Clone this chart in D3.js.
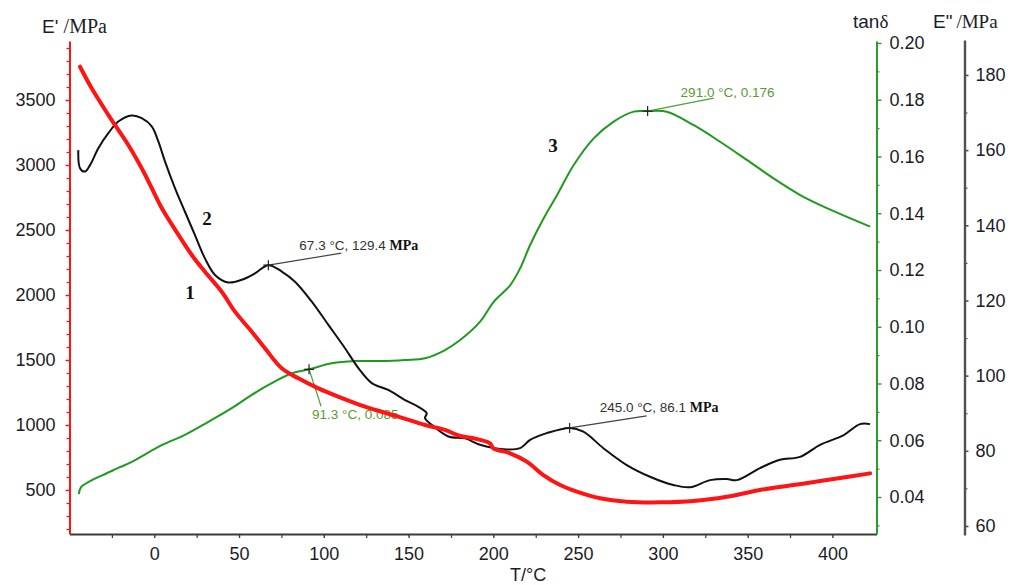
<!DOCTYPE html>
<html>
<head>
<meta charset="utf-8">
<script src="https://cdn.jsdelivr.net/npm/d3@7/dist/d3.min.js"></script>
<style>
  html, body { margin: 0; padding: 0; background: #fff; }
  svg { display: block; }
  .tick text { font-family: "Liberation Sans", Arial, sans-serif; font-size: 18px; fill: #1c1c28; }
</style>
</head>
<body>
<svg id="chart" width="1010" height="585"></svg>
<script>
// Temperature sweep, °C
// Curve 1: storage modulus E' (MPa)
const tempE1 = [-43.8, -36.9, -27.1, -23.2, -15.3, -7.4, -1.5, 4.4, 14.3, 22.1, 29.9, 39.8, 47.6, 57.5, 65.3, 75.2, 85.0, 96.8, 108.6, 124.3, 144, 159.7, 171.5, 180.4, 188.2, 198, 200, 209.9, 219.7, 229.5, 239.4, 249.2, 263, 278.7, 298.3, 318, 337.7, 357.3, 377, 396.7, 422.2];
const storageModulus = [3756, 3590, 3385, 3308, 3154, 2975, 2823, 2669, 2462, 2308, 2179, 2025, 1872, 1718, 1590, 1436, 1359, 1282, 1218, 1141, 1064, 1000, 962, 915, 898, 859, 821, 782, 718, 615, 538, 487, 436, 410, 405, 415, 448, 500, 538, 577, 628];

// Curve 2: loss modulus E'' (MPa)
const tempE2 = [-44.8, -43.8, -40.9, -37.9, -33, -27.1, -21.2, -13.3, -7.4, -1.5, 2.4, 6.3, 12.2, 18.1, 24, 29.9, 35.8, 43.7, 51.6, 59.4, 67.3, 75.2, 83, 92.9, 102.7, 112.5, 120.4, 128.3, 138, 147.9, 155.8, 160.7, 159.7, 163.7, 173.5, 183.3, 192.2, 206, 215.8, 221.7, 231.5, 245, 253.1, 264.9, 278.7, 292.4, 306.2, 316, 327.8, 337.7, 343.6, 357.3, 369.1, 380.9, 392.7, 406.7, 416.3, 422.2];
const lossModulus = [160.0, 155.2, 154.3, 156, 160.5, 164.5, 167.6, 169.2, 168.5, 166.3, 162.3, 157, 149.9, 143.6, 137.4, 131.2, 126.8, 124.8, 125.5, 127.2, 129.4, 127.7, 125, 119.7, 113.5, 107.3, 102, 98, 96.2, 93.5, 91.7, 90, 88.7, 86.9, 83.8, 83.3, 81.6, 80.4, 80.7, 82.9, 84.7, 86.1, 85.1, 80.7, 76.2, 73.1, 70.9, 70.3, 72.2, 72.5, 72.2, 75.4, 77.6, 78.4, 81.6, 84.2, 87.1, 87.1];

// Curve 3: loss factor tan δ
const tempTan = [-44.5, -43.2, -37.9, -32, -20.2, -13.3, 4.4, 18.1, 31.9, 45.7, 57.5, 69.3, 81.1, 91.3, 104.7, 118.4, 134.2, 147.9, 159.7, 171.5, 180.4, 192.2, 200.2, 210, 215.8, 221.7, 229.7, 237.6, 247.4, 259.2, 271, 282.8, 291, 302.3, 318, 333.7, 349.5, 365.2, 381, 396.7, 422.2];
const tanDelta = [0.041, 0.0435, 0.0456, 0.0473, 0.0505, 0.0524, 0.0583, 0.0619, 0.0665, 0.0713, 0.076, 0.0801, 0.0836, 0.085, 0.0871, 0.0879, 0.0879, 0.0883, 0.0889, 0.0918, 0.0953, 0.1018, 0.1088, 0.1147, 0.1206, 0.1288, 0.1382, 0.1464, 0.157, 0.1664, 0.1723, 0.1758, 0.176, 0.1758, 0.1711, 0.1652, 0.1588, 0.1523, 0.1464, 0.1418, 0.1353];

// Tick values
const tempTicks = [0, 50, 100, 150, 200, 250, 300, 350, 400];
const storageTicks = [500, 1000, 1500, 2000, 2500, 3000, 3500];
const tanTicks = [0.04, 0.06, 0.08, 0.10, 0.12, 0.14, 0.16, 0.18, 0.20];
const lossTicks = [60, 80, 100, 120, 140, 160, 180];

// Peak annotations
const peaks = [
  { t: 67.3, v: 129.4, series: "loss", label: "67.3 °C, 129.4 ", unit: "MPa" },
  { t: 245.0, v: 86.1, series: "loss", label: "245.0 °C, 86.1 ", unit: "MPa" },
  { t: 91.3, v: 0.085, series: "tan", label: "91.3 °C, 0.085", unit: "" },
  { t: 291.0, v: 0.176, series: "tan", label: "291.0 °C, 0.176", unit: "" }
];

const svg = d3.select("#chart");
const SANS = '"Liberation Sans", Arial, sans-serif';
const SERIF = '"Liberation Serif", "Times New Roman", serif';

const plotLeft = 69.5, plotRight = 876.5, plotBottom = 534, plotTop = 41;

const x = d3.scaleLinear().domain([-50, 426]).range([plotLeft, plotRight]);
const yE1 = d3.scaleLinear().domain([161.5, 3953.8]).range([plotBottom, plotTop]);
const yTan = d3.scaleLinear().domain([0.02696, 0.2007]).range([plotBottom, plotTop]);
const yE2 = d3.scaleLinear().domain([57.6, 189.3]).range([535, 40]);

const RED = "#ff1414", GREEN = "#1f9a1f", BLACK = "#111";

// ---- axes ----
function minorTicks(g, scale, values, axisFn, size, color) {
  g.append("g").call(axisFn(scale).tickValues(values).tickSize(size).tickFormat(""))
    .call(a => a.select(".domain").remove())
    .call(a => a.selectAll("line").attr("stroke", color).attr("stroke-width", 1.2));
}

// bottom temperature axis
const gx = svg.append("g").attr("transform", `translate(0,${plotBottom})`);
gx.call(d3.axisBottom(x).tickValues(tempTicks).tickSize(4).tickPadding(9).tickSizeOuter(0).tickFormat(d3.format("d")))
  .call(a => a.select(".domain").attr("stroke", "#3a3a3a").attr("stroke-width", 2))
  .call(a => a.selectAll(".tick line").attr("stroke", "#3a3a3a").attr("stroke-width", 1.4));
minorTicks(gx, x, d3.range(-25, 401, 50), d3.axisBottom, 4, "#3a3a3a");

// left E' axis (red)
const gl = svg.append("g").attr("transform", `translate(${plotLeft},0)`);
gl.call(d3.axisLeft(yE1).tickValues(storageTicks).tickSize(4).tickPadding(10).tickSizeOuter(0).tickFormat(d3.format("d")))
  .call(a => a.select(".domain").attr("stroke", RED).attr("stroke-width", 2))
  .call(a => a.selectAll(".tick line").attr("stroke", RED).attr("stroke-width", 1.4));
minorTicks(gl, yE1, d3.range(200, 3901, 100).filter(v => v % 500 !== 0), d3.axisLeft, 3, RED);

// right tan δ axis (green)
const gt = svg.append("g").attr("transform", `translate(${plotRight},0)`);
gt.call(d3.axisRight(yTan).tickValues(tanTicks).tickSize(5).tickPadding(8).tickSizeOuter(0).tickFormat(d3.format(".2f")))
  .call(a => a.select(".domain").attr("stroke", "#2d9a2d").attr("stroke-width", 2))
  .call(a => a.selectAll(".tick line").attr("stroke", "#2d9a2d").attr("stroke-width", 1.4));
minorTicks(gt, yTan, d3.range(3, 20, 2).map(v => v / 100), d3.axisRight, 3, "#2d9a2d");

// far right E'' axis (gray)
const gr = svg.append("g").attr("transform", "translate(964.5,0)");
gr.call(d3.axisRight(yE2).tickValues(lossTicks).tickSize(4).tickPadding(7).tickSizeOuter(0))
  .call(a => a.select(".domain").attr("stroke", "#505050").attr("stroke-width", 2.4))
  .call(a => a.selectAll(".tick line").attr("stroke", "#505050").attr("stroke-width", 1.6));
minorTicks(gr, yE2, [70, 90, 110, 130, 150, 170], d3.axisRight, 3, "#505050");

// ---- axis titles ----
const t1 = svg.append("text").attr("x", 42).attr("y", 33).attr("fill", "#1c1c28").attr("font-size", 19);
t1.append("tspan").attr("font-family", SANS).text("E' ");
t1.append("tspan").attr("font-family", SERIF).attr("font-size", 20).text("/MPa");

const t2 = svg.append("text").attr("x", 853).attr("y", 28).attr("fill", "#1c1c28").attr("font-size", 19);
t2.append("tspan").attr("font-family", SANS).text("tan");
t2.append("tspan").attr("font-family", SERIF).text("δ");

const t3 = svg.append("text").attr("x", 933).attr("y", 28).attr("fill", "#1c1c28").attr("font-size", 19);
t3.append("tspan").attr("font-family", SANS).text("E\"");
t3.append("tspan").attr("font-family", SERIF).attr("dx", 4).text("/MPa");

svg.append("text").attr("x", 510).attr("y", 581).attr("font-family", SANS).attr("font-size", 18)
  .attr("fill", "#1c1c28").text("T/°C");

// ---- curves ----
const lineGen = (ys) => d3.line().x(d => x(d[0])).y(d => ys(d[1])).curve(d3.curveCatmullRom.alpha(0.5));

svg.append("path").datum(d3.zip(tempTan, tanDelta))
  .attr("d", lineGen(yTan)).attr("fill", "none").attr("stroke", GREEN).attr("stroke-width", 2);

svg.append("path").datum(d3.zip(tempE2, lossModulus))
  .attr("d", lineGen(yE2)).attr("fill", "none").attr("stroke", BLACK).attr("stroke-width", 2);

// ---- peak annotations ----
const annotLayout = {
  "67.3": { dx: 73, dy: -12, tx: 31, ty: -15, color: "#333" },
  "245": { dx: 77, dy: -12, tx: 30, ty: -16, color: "#333" },
  "91.3": { dx: 12, dy: 37, tx: 3, ty: 50, color: "#5b9a34" },
  "291": { dx: 66, dy: -13, tx: 33, ty: -14, color: "#5b9a34" }
};
peaks.forEach(p => {
  const px = x(p.t), py = (p.series === "loss" ? yE2 : yTan)(p.v);
  const L = annotLayout[String(p.t)];
  const g = svg.append("g");
  g.append("line").attr("x1", px).attr("y1", py).attr("x2", px + L.dx).attr("y2", py + L.dy)
    .attr("stroke", L.color === "#333" ? "#444" : "#4fa03a").attr("stroke-width", 1.2);
  g.append("path").attr("d", `M${px - 5},${py}H${px + 5}M${px},${py - 5}V${py + 5}`)
    .attr("stroke", "#222").attr("stroke-width", 1.2);
  const tx = g.append("text").attr("x", px + L.tx).attr("y", py + L.ty).attr("fill", L.color);
  tx.append("tspan").attr("font-family", SANS).attr("font-size", 13.5).text(p.label);
  if (p.unit) tx.append("tspan").attr("font-family", SERIF).attr("font-weight", "bold")
    .attr("font-size", 14).attr("fill", "#111").text(p.unit);
});

svg.append("path").datum(d3.zip(tempE1, storageModulus))
  .attr("d", lineGen(yE1)).attr("fill", "none").attr("stroke", RED).attr("stroke-width", 4)
  .attr("stroke-linecap", "round").attr("stroke-linejoin", "round");

// ---- curve numbers ----
const nums = [["1", 190, 299], ["2", 207, 225], ["3", 553, 152]];
svg.selectAll(".num").data(nums).enter().append("text")
  .attr("x", d => d[1]).attr("y", d => d[2]).attr("text-anchor", "middle")
  .attr("font-family", SERIF).attr("font-weight", "bold").attr("font-size", 19).attr("fill", "#111")
  .text(d => d[0]);
</script>
</body>
</html>
